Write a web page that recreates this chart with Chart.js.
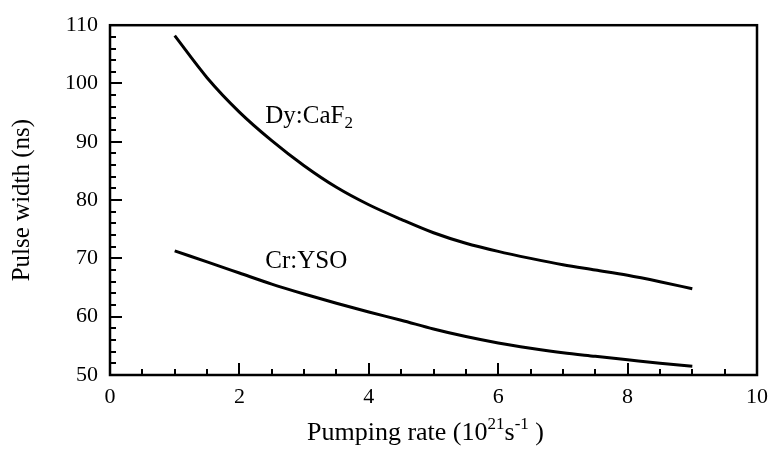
<!DOCTYPE html>
<html><head><meta charset="utf-8">
<script src="https://cdn.jsdelivr.net/npm/chart.js@4/dist/chart.umd.min.js"></script>
<style>html,body{margin:0;padding:0;background:#fff}canvas{display:block}</style>
</head><body>
<canvas id="c" width="777" height="457"></canvas>
<script>
// ---- data ----
const pumpingRate = [1, 1.5, 2, 2.5, 3, 3.5, 4, 4.5, 5, 5.5, 6, 6.5, 7, 7.5, 8, 8.5, 9];
const dyCaF2 = [108.2, 101.0, 95.1, 90.2, 85.9, 82.2, 79.2, 76.7, 74.4, 72.6, 71.2, 70.0, 68.9, 68.0, 67.1, 66.0, 64.8];
const crYSO  = [71.3, 69.4, 67.5, 65.6, 63.9, 62.3, 60.8, 59.4, 57.9, 56.6, 55.5, 54.6, 53.8, 53.2, 52.6, 52.0, 51.5];
const xTickLabels = [0, 2, 4, 6, 8, 10];
const yTickLabels = [50, 60, 70, 80, 90, 100, 110];
const seriesNames = ['Dy:CaF', 'Cr:YSO'];
const dyLabelPos = {x: 2.40, y: 93.25};
const crLabelPos = {x: 2.40, y: 68.3};

const SERIF = "'Liberation Serif', 'Times New Roman', serif";

const framePlugin = {
  id: 'frame',
  afterDraw(chart) {
    const {ctx, chartArea: a, scales: {x, y}} = chart;
    ctx.save();
    ctx.strokeStyle = '#000';
    // ticks (inward)
    ctx.lineWidth = 2;
    ctx.beginPath();
    for (let v = 50; v <= 110.001; v += 2) {
      const py = Math.round(y.getPixelForValue(v));
      const len = (Math.abs(v % 10) < 0.001) ? 12 : 6;
      ctx.moveTo(a.left, py); ctx.lineTo(a.left + len, py);
    }
    for (let v = 0; v <= 10.001; v += 0.5) {
      const px = Math.round(x.getPixelForValue(v));
      const len = (Math.abs(v % 2) < 0.001) ? 12 : 6;
      ctx.moveTo(px, a.bottom); ctx.lineTo(px, a.bottom - len);
    }
    ctx.stroke();
    // box
    ctx.lineWidth = 2.5;
    ctx.strokeRect(a.left, a.top, a.right - a.left, a.bottom - a.top);

    // series labels
    ctx.fillStyle = '#000';
    ctx.textBaseline = 'alphabetic';
    ctx.textAlign = 'left';
    ctx.font = '25px ' + SERIF;
    let lx = x.getPixelForValue(dyLabelPos.x), ly = y.getPixelForValue(dyLabelPos.y);
    ctx.fillText(seriesNames[0], lx, ly);
    const w0 = ctx.measureText(seriesNames[0]).width;
    ctx.font = '17px ' + SERIF;
    ctx.fillText('2', lx + w0, ly + 5);
    ctx.font = '25px ' + SERIF;
    ctx.fillText(seriesNames[1], x.getPixelForValue(crLabelPos.x), y.getPixelForValue(crLabelPos.y));

    // x axis title with superscripts
    const parts = [
      {t: 'Pumping rate (10', s: false},
      {t: '21', s: true},
      {t: 's', s: false},
      {t: '-1', s: true},
      {t: ' )', s: false}
    ];
    parts.forEach(p => {
      ctx.font = (p.s ? '17px ' : '26px ') + SERIF;
      p.w = ctx.measureText(p.t).width;
    });
    let tx = a.left + 197;
    const baseY = 440;
    parts.forEach(p => {
      ctx.font = (p.s ? '17px ' : '26px ') + SERIF;
      ctx.fillText(p.t, tx, p.s ? baseY - 11 : baseY);
      tx += p.w;
    });
    ctx.restore();
  }
};

new Chart(document.getElementById('c').getContext('2d'), {
  type: 'line',
  data: {
    datasets: [
      {label: 'Dy:CaF2', data: pumpingRate.map((v, i) => ({x: v, y: dyCaF2[i]})),
       borderColor: '#000', borderWidth: 3, pointRadius: 0, cubicInterpolationMode: 'monotone', fill: false},
      {label: 'Cr:YSO', data: pumpingRate.map((v, i) => ({x: v, y: crYSO[i]})),
       borderColor: '#000', borderWidth: 3, pointRadius: 0, cubicInterpolationMode: 'monotone', fill: false}
    ]
  },
  options: {
    responsive: false, animation: false, devicePixelRatio: 1,
    layout: {padding: {left: 0, top: 24, right: 14, bottom: 0}},
    plugins: {legend: {display: false}, tooltip: {enabled: false}},
    scales: {
      x: {
        type: 'linear', min: 0, max: 10,
        afterBuildTicks: s => { s.ticks = xTickLabels.map(v => ({value: v})); },
        grid: {display: false, drawTicks: false}, border: {display: false},
        ticks: {padding: 9, color: '#000', font: {family: SERIF, size: 22}, maxRotation: 0, autoSkip: false},
        afterFit: s => { s.height = 82; }
      },
      y: {
        type: 'linear', min: 50, max: 110,
        afterBuildTicks: s => { s.ticks = yTickLabels.map(v => ({value: v})); },
        grid: {display: false, drawTicks: false}, border: {display: false},
        ticks: {padding: 12, color: '#000', font: {family: SERIF, size: 22}, autoSkip: false},
        title: {display: true, text: 'Pulse width (ns)', color: '#000', font: {family: SERIF, size: 25}, padding: {top: 7, bottom: 0}},
        afterFit: s => { s.width = 110; }
      }
    }
  },
  plugins: [framePlugin]
});
</script>
</body></html>
